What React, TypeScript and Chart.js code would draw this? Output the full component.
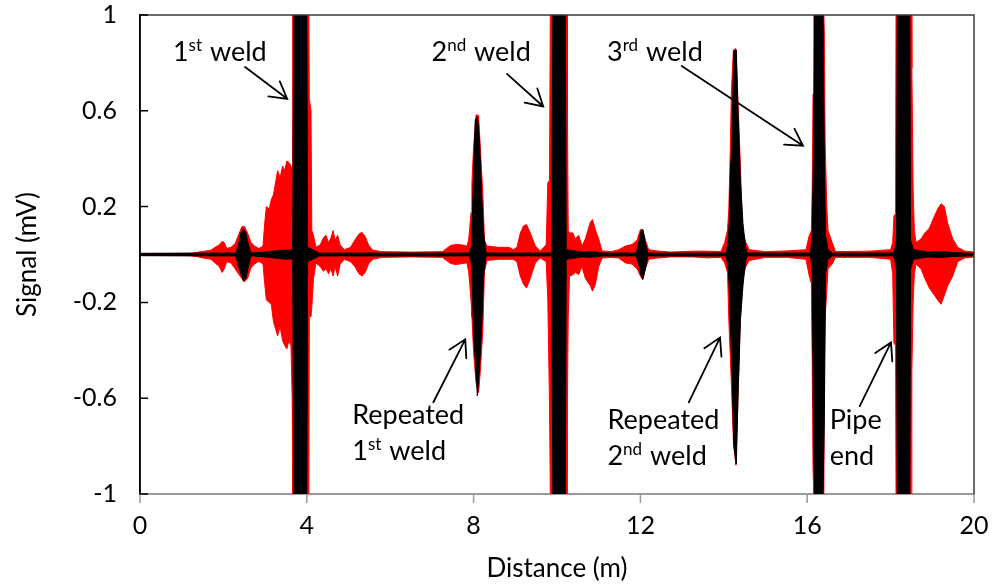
import React, { useEffect, useRef } from "react";
import { Chart, registerables } from "chart.js";

Chart.register(...registerables);

// ---- axes ----
const xTicks = [0, 4, 8, 12, 16, 20];
const yTicks = [-1, -0.6, -0.2, 0.2, 0.6, 1];

// ---- red signal envelope ----
const redX = [
  0.0, 1.2, 1.4, 1.55, 1.7, 1.8, 1.9, 1.97, 2.02, 2.08, 2.18, 2.28, 2.36, 2.44, 2.5, 2.58, 2.66, 2.75, 2.85, 2.95,
  2.99, 3.03, 3.1, 3.15, 3.2, 3.25, 3.3, 3.36, 3.42, 3.47, 3.52, 3.57, 3.62, 3.65, 3.66, 4.05, 4.06, 4.1, 4.12, 4.16,
  4.22, 4.32, 4.4, 4.46, 4.52, 4.58, 4.63, 4.68, 4.74, 4.8, 4.9, 5.05, 5.15, 5.25, 5.32, 5.4, 5.48, 5.58, 5.8, 6.5,
  7.25, 7.35, 7.45, 7.58, 7.72, 7.84, 7.88, 7.91, 7.94, 7.96, 8.0, 8.06, 8.12, 8.16, 8.22, 8.26, 8.32, 8.6, 8.85, 8.95,
  9.04, 9.12, 9.2, 9.27, 9.36, 9.48, 9.6, 9.74, 9.78, 9.82, 9.84, 10.24, 10.25, 10.27, 10.3, 10.38, 10.44, 10.52, 10.6, 10.68,
  10.8, 10.85, 10.92, 11.0, 11.08, 11.3, 11.48, 11.64, 11.8, 11.92, 12.0, 12.05, 12.12, 12.2, 12.4, 12.72, 13.28, 13.6, 13.93, 14.02,
  14.09, 14.12, 14.15, 14.18, 14.23, 14.29, 14.34, 14.39, 14.45, 14.53, 14.61, 15.0, 15.5, 15.97, 16.05, 16.1, 16.12, 16.14, 16.16, 16.4,
  16.41, 16.43, 16.47, 16.5, 16.6, 16.68, 17.5, 18.0, 18.05, 18.08, 18.12, 18.13, 18.5, 18.51, 18.54, 18.57, 18.61, 18.73, 18.82, 18.93,
  19.05, 19.13, 19.21, 19.29, 19.37, 19.49, 19.61, 19.77, 20.0,
];
const redUpper = [
  0.004, 0.005, 0.01, 0.014, 0.018, 0.03, 0.04, 0.055, 0.05, 0.025, 0.03, 0.045, 0.08, 0.115, 0.118, 0.09, 0.05, 0.035, 0.025, 0.035,
  0.13, 0.2, 0.19, 0.23, 0.25, 0.3, 0.35, 0.32, 0.37, 0.35, 0.39, 0.385, 0.37, 0.36, 1, 1, 0.65, 0.6, 0.1, 0.08,
  0.03, 0.04, 0.07, 0.08, 0.05, 0.07, 0.1, 0.06, 0.08, 0.04, 0.02, 0.03, 0.06, 0.085, 0.093, 0.075, 0.04, 0.018, 0.012, 0.01,
  0.012, 0.025, 0.038, 0.042, 0.04, 0.035, 0.06, 0.118, 0.175, 0.3, 0.45, 0.583, 0.58, 0.45, 0.26, 0.06, 0.035, 0.03, 0.03, 0.02,
  0.03, 0.09, 0.12, 0.125, 0.09, 0.035, 0.015, 0.04, 0.3, 0.31, 1, 1, 0.58, 0.1, 0.09, 0.09, 0.065, 0.08, 0.035, 0.065,
  0.135, 0.146, 0.104, 0.065, 0.015, 0.012, 0.02, 0.035, 0.042, 0.06, 0.104, 0.104, 0.06, 0.02, 0.015, 0.01, 0.014, 0.014, 0.012, 0.05,
  0.104, 0.19, 0.39, 0.67, 0.854, 0.86, 0.646, 0.41, 0.104, 0.05, 0.02, 0.012, 0.015, 0.02, 0.08, 0.1, 0.27, 0.67, 1, 1,
  0.93, 0.47, 0.2, 0.1, 0.05, 0.012, 0.014, 0.02, 0.05, 0.16, 0.17, 1, 1, 0.78, 0.27, 0.1, 0.05, 0.065, 0.09, 0.11,
  0.16, 0.19, 0.212, 0.2, 0.13, 0.065, 0.03, 0.015, 0.01,
];
const redLower = [
  -0.004, -0.005, -0.01, -0.016, -0.02, -0.035, -0.05, -0.075, -0.06, -0.03, -0.035, -0.06, -0.08, -0.1, -0.115, -0.1, -0.055, -0.04, -0.028, -0.04,
  -0.12, -0.19, -0.2, -0.21, -0.28, -0.31, -0.34, -0.3, -0.36, -0.38, -0.395, -0.36, -0.38, -0.6, -1, -1, -0.26, -0.26, -0.22, -0.1,
  -0.035, -0.05, -0.07, -0.06, -0.08, -0.06, -0.09, -0.05, -0.09, -0.04, -0.02, -0.03, -0.05, -0.08, -0.09, -0.075, -0.04, -0.02, -0.012, -0.01,
  -0.012, -0.025, -0.038, -0.042, -0.038, -0.035, -0.07, -0.13, -0.2, -0.26, -0.41, -0.535, -0.577, -0.49, -0.32, -0.07, -0.025, -0.02, -0.02, -0.02,
  -0.03, -0.09, -0.125, -0.14, -0.1, -0.035, -0.015, -0.03, -0.19, -0.62, -1, -1, -0.6, -0.26, -0.09, -0.085, -0.075, -0.083, -0.05, -0.1,
  -0.13, -0.153, -0.125, -0.05, -0.015, -0.012, -0.015, -0.035, -0.04, -0.06, -0.09, -0.104, -0.06, -0.02, -0.015, -0.01, -0.01, -0.014, -0.012, -0.035,
  -0.075, -0.27, -0.4, -0.53, -0.78, -0.88, -0.6, -0.3, -0.1, -0.05, -0.025, -0.012, -0.012, -0.02, -0.09, -0.12, -0.45, -0.9, -1, -1,
  -0.5, -0.26, -0.15, -0.06, -0.04, -0.012, -0.012, -0.02, -0.08, -0.37, -0.38, -1, -1, -0.49, -0.2, -0.08, -0.04, -0.06, -0.1, -0.14,
  -0.17, -0.19, -0.208, -0.17, -0.13, -0.09, -0.03, -0.015, -0.01,
];

// ---- black signal envelope ----
const blackX = [
  0.0, 2.3, 2.36, 2.42, 2.48, 2.54, 2.6, 2.66, 3.0, 3.3, 3.5, 3.66, 3.69, 4.0, 4.02, 4.3, 7.9, 7.94, 7.96, 8.0,
  8.04, 8.09, 8.14, 8.19, 8.24, 8.3, 9.87, 9.9, 10.2, 10.22, 10.6, 10.85, 11.1, 11.9, 11.96, 12.02, 12.06, 12.12, 12.18, 14.06,
  14.1, 14.13, 14.16, 14.2, 14.24, 14.3, 14.34, 14.4, 14.46, 14.52, 14.56, 16.08, 16.12, 16.15, 16.18, 16.38, 16.41, 16.44, 16.5, 16.6,
  18.05, 18.1, 18.14, 18.16, 18.46, 18.48, 18.55, 18.9, 19.2, 19.5, 20.0,
];
const blackUpper = [
  0.005, 0.006, 0.04, 0.09, 0.108, 0.09, 0.04, 0.006, 0.01, 0.016, 0.018, 0.018, 1, 1, 0.03, 0.006, 0.006, 0.03, 0.09, 0.34,
  0.56, 0.576, 0.48, 0.26, 0.09, 0.006, 0.006, 1, 1, 0.02, 0.01, 0.012, 0.006, 0.006, 0.05, 0.1, 0.104, 0.05, 0.006, 0.006,
  0.05, 0.13, 0.35, 0.5, 0.85, 0.854, 0.6, 0.3, 0.13, 0.03, 0.006, 0.006, 0.08, 0.42, 1, 1, 0.42, 0.08, 0.02, 0.006,
  0.006, 0.02, 0.06, 1, 1, 0.06, 0.02, 0.01, 0.013, 0.008, 0.005,
];
const blackLower = [
  -0.005, -0.006, -0.05, -0.08, -0.11, -0.1, -0.05, -0.006, -0.01, -0.016, -0.02, -0.018, -1, -1, -0.03, -0.006, -0.006, -0.03, -0.075, -0.33,
  -0.44, -0.59, -0.48, -0.32, -0.09, -0.006, -0.006, -1, -1, -0.02, -0.01, -0.012, -0.006, -0.006, -0.04, -0.09, -0.104, -0.06, -0.006, -0.006,
  -0.05, -0.13, -0.3, -0.5, -0.8, -0.875, -0.6, -0.27, -0.13, -0.03, -0.006, -0.006, -0.08, -0.7, -1, -1, -0.7, -0.08, -0.02, -0.006,
  -0.006, -0.02, -0.06, -1, -1, -0.06, -0.02, -0.01, -0.013, -0.008, -0.005,
];

// ---- annotations (data coordinates) ----
type Part = [string, boolean];
const textLabels: { x: number; y: number; parts: Part[] }[] = [
  { x: 0.79, y: 0.806, parts: [["1", false], ["st", true], [" weld", false]] },
  { x: 6.99, y: 0.806, parts: [["2", false], ["nd", true], [" weld", false]] },
  { x: 11.2, y: 0.806, parts: [["3", false], ["rd", true], [" weld", false]] },
  { x: 5.09, y: -0.708, parts: [["Repeated", false]] },
  { x: 5.09, y: -0.86, parts: [["1", false], ["st", true], [" weld", false]] },
  { x: 11.21, y: -0.729, parts: [["Repeated", false]] },
  { x: 11.21, y: -0.881, parts: [["2", false], ["nd", true], [" weld", false]] },
  { x: 16.54, y: -0.729, parts: [["Pipe", false]] },
  { x: 16.54, y: -0.881, parts: [["end", false]] },
];
const arrowFromX = [2.52, 8.8, 12.99, 7.035, 13.16, 17.26];
const arrowFromY = [0.783, 0.754, 0.7875, -0.617, -0.617, -0.633];
const arrowToX = [3.53, 9.67, 15.9, 7.8, 13.91, 18.01];
const arrowToY = [0.65, 0.618, 0.454, -0.354, -0.347, -0.367];

const FONT = "Lato, 'Open Sans', sans-serif";

const toPts = (xs: number[], ys: number[]) => xs.map((x, i) => ({ x, y: ys[i] }));

const decorPlugin = {
  id: "decor",
  afterDatasetsDraw(chart: any) {
    const { ctx, chartArea } = chart;
    const { left, right, top, bottom } = chartArea;
    const sx = chart.scales.x;
    const sy = chart.scales.y;
    ctx.save();
    // frame top/right
    ctx.strokeStyle = "#3a3a3a";
    ctx.lineWidth = 1.5;
    ctx.beginPath();
    ctx.moveTo(left, top);
    ctx.lineTo(right, top);
    ctx.lineTo(right, bottom);
    ctx.stroke();
    // x ticks (outward, gray)
    ctx.strokeStyle = "#9a9a9a";
    ctx.lineWidth = 1.5;
    ctx.beginPath();
    xTicks.forEach((v) => {
      const px = sx.getPixelForValue(v);
      ctx.moveTo(px, bottom);
      ctx.lineTo(px, bottom + 9);
    });
    ctx.stroke();
    // inward y ticks
    ctx.strokeStyle = "#000";
    ctx.lineWidth = 1.5;
    ctx.beginPath();
    yTicks.forEach((v) => {
      const py = sy.getPixelForValue(v);
      ctx.moveTo(left, py);
      ctx.lineTo(left + 8, py);
    });
    ctx.stroke();
    // left axis line
    ctx.beginPath();
    ctx.moveTo(left, top);
    ctx.lineTo(left, bottom);
    ctx.stroke();

    // arrows
    ctx.strokeStyle = "#000";
    ctx.lineWidth = 1.8;
    ctx.lineCap = "round";
    arrowFromX.forEach((fx, i) => {
      const x1 = sx.getPixelForValue(fx);
      const y1 = sy.getPixelForValue(arrowFromY[i]);
      const x2 = sx.getPixelForValue(arrowToX[i]);
      const y2 = sy.getPixelForValue(arrowToY[i]);
      const ang = Math.atan2(y1 - y2, x1 - x2);
      const hl = 19;
      const ha = (30 * Math.PI) / 180;
      ctx.beginPath();
      ctx.moveTo(x1, y1);
      ctx.lineTo(x2, y2);
      ctx.moveTo(x2 + hl * Math.cos(ang + ha), y2 + hl * Math.sin(ang + ha));
      ctx.lineTo(x2, y2);
      ctx.lineTo(x2 + hl * Math.cos(ang - ha), y2 + hl * Math.sin(ang - ha));
      ctx.stroke();
    });

    // text labels
    ctx.fillStyle = "#000";
    ctx.textBaseline = "alphabetic";
    ctx.textAlign = "left";
    textLabels.forEach((lab) => {
      let px = sx.getPixelForValue(lab.x);
      const py = sy.getPixelForValue(lab.y);
      lab.parts.forEach(([t, sup]) => {
        ctx.font = sup ? `17px ${FONT}` : `27px ${FONT}`;
        ctx.fillText(t, px, sup ? py - 10 : py);
        px += ctx.measureText(t).width + (sup ? 1 : 0);
      });
    });
    ctx.restore();
  },
};

export default function App() {
  const ref = useRef<HTMLCanvasElement | null>(null);
  useEffect(() => {
    document.body.style.margin = "0";
    if (!ref.current) return;
    const chart = new Chart(ref.current, {
      type: "line",
      data: {
        datasets: [
          {
            data: toPts(blackX, blackUpper),
            borderColor: "#000",
            backgroundColor: "#000",
            borderWidth: 1,
            pointRadius: 0,
            fill: "+1",
          },
          {
            data: toPts(blackX, blackLower),
            borderColor: "#000",
            backgroundColor: "#000",
            borderWidth: 1,
            pointRadius: 0,
            fill: false,
          },
          {
            data: toPts(redX, redUpper),
            borderColor: "#ff0000",
            backgroundColor: "#ff0000",
            borderWidth: 1,
            pointRadius: 0,
            fill: "+1",
          },
          {
            data: toPts(redX, redLower),
            borderColor: "#ff0000",
            backgroundColor: "#ff0000",
            borderWidth: 1,
            pointRadius: 0,
            fill: false,
          },
        ],
      } as any,
      options: {
        animation: false,
        responsive: false,
        events: [],
        layout: { padding: { top: 15, right: 18, left: 0, bottom: 0 } },
        plugins: { legend: { display: false }, tooltip: { enabled: false } },
        scales: {
          x: {
            type: "linear",
            min: 0,
            max: 20,
            afterBuildTicks: (s: any) => {
              s.ticks = xTicks.map((v) => ({ value: v }));
            },
            afterFit: (s: any) => {
              s.height = 93;
            },
            grid: {
              drawOnChartArea: false,
              drawTicks: true,
              tickLength: 19,
              tickColor: "rgba(0,0,0,0)",
              color: "rgba(0,0,0,0)",
            },
            border: { color: "#9a9a9a", width: 2 },
            ticks: {
              color: "#000",
              font: { family: FONT, size: 25, lineHeight: 1 },
              padding: 0,
              maxRotation: 0,
              callback: (v: any) => String(v),
            },
            title: {
              display: true,
              text: "Distance (m)",
              color: "#000",
              font: { family: FONT, size: 26, lineHeight: 1.2 },
              padding: { top: 0, bottom: 3 },
            },
          },
          y: {
            type: "linear",
            min: -1,
            max: 1,
            afterBuildTicks: (s: any) => {
              s.ticks = yTicks.map((v) => ({ value: v }));
            },
            afterFit: (s: any) => {
              s.width = 140;
            },
            grid: {
              drawOnChartArea: false,
              drawTicks: true,
              tickLength: 23,
              tickColor: "rgba(0,0,0,0)",
              color: "rgba(0,0,0,0)",
            },
            border: { color: "#000", width: 1.5 },
            ticks: {
              color: "#000",
              font: { family: FONT, size: 25, lineHeight: 1 },
              padding: 0,
              callback: (v: any) => String(Math.round(Number(v) * 10) / 10),
            },
            title: {
              display: true,
              text: "Signal (mV)",
              color: "#000",
              font: { family: FONT, size: 26, lineHeight: 1.2 },
              padding: { top: 12, bottom: 0 },
            },
          },
        },
      } as any,
      plugins: [decorPlugin],
    });
    return () => chart.destroy();
  }, []);
  return <canvas ref={ref} width={992} height={587} style={{ display: "block" }} />;
}
